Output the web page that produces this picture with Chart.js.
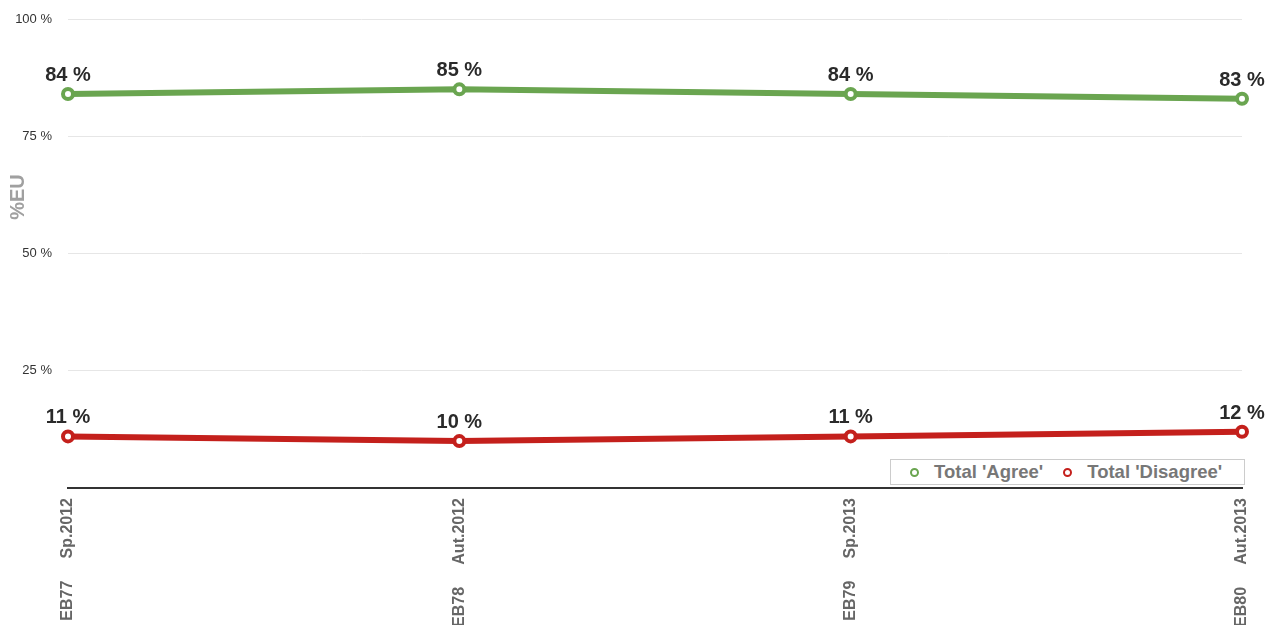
<!DOCTYPE html>
<html>
<head>
<meta charset="utf-8">
<script src="https://cdn.jsdelivr.net/npm/chart.js@4"></script>
<style>
  html, body { margin: 0; padding: 0; background: #fff; overflow: hidden; }
  #wrap { position: relative; width: 1275px; height: 625px; }
  #legend {
    position: absolute; left: 890px; top: 459px; width: 355px; height: 26px;
    border: 1px solid #ccc; background: #fff; box-sizing: border-box;
    font: bold 18.5px "Liberation Sans", Arial, sans-serif; color: #777;
    display: flex; align-items: center; padding-left: 19px; white-space: nowrap;
  }
  #legend span.item { display: flex; align-items: center; margin-right: 20px; }
  #legend span.dot {
    display: inline-block; width: 5px; height: 5px; border-radius: 50%;
    border: 2.5px solid; background: #fff; margin-right: 15px;
  }
</style>
</head>
<body>
<div id="wrap">
  <canvas id="lineChart" width="1275" height="625"></canvas>
  <div id="legend"></div>
</div>
<script>
// Data
const labels = ["EB77     Sp.2012", "EB78     Aut.2012", "EB79     Sp.2013", "EB80     Aut.2013"];
const agree = [84, 85, 84, 83];
const disagree = [11, 10, 11, 12];
const yTicks = [0, 25, 50, 75, 100];
const yTitle = "%EU";

const FONT = '"Liberation Sans", Arial, sans-serif';

// Draw value labels above each point
const valueLabels = {
  id: "valueLabels",
  afterDatasetsDraw(chart) {
    const ctx = chart.ctx;
    ctx.save();
    ctx.font = "bold 20px " + FONT;
    ctx.fillStyle = "#2a2a2a";
    ctx.textAlign = "center";
    ctx.textBaseline = "alphabetic";
    chart.data.datasets.forEach((ds, i) => {
      chart.getDatasetMeta(i).data.forEach((pt, j) => {
        ctx.fillText(ds.data[j] + " %", pt.x, pt.y - 13);
      });
    });
    ctx.restore();
  },
};

// Y axis title, sits a bit above the middle like the original
const axisTitle = {
  id: "axisTitle",
  afterDraw(chart) {
    const ctx = chart.ctx;
    ctx.save();
    ctx.translate(18, 197);
    ctx.rotate(-Math.PI / 2);
    ctx.font = "bold 20px " + FONT;
    ctx.fillStyle = "#a0a0a0";
    ctx.textAlign = "center";
    ctx.textBaseline = "middle";
    ctx.fillText(yTitle, 0, 0);
    ctx.restore();
  },
};

const ctx = document.getElementById("lineChart").getContext("2d");
const lineChart = new Chart(ctx, {
  type: "line",
  data: {
    labels: labels,
    datasets: [
      {
        label: "Total 'Agree'",
        data: agree,
        borderColor: "#6aa550",
        backgroundColor: "#fff",
        borderWidth: 6,
        pointRadius: 5,
        pointBorderWidth: 4,
        pointBackgroundColor: "#fff",
        pointBorderColor: "#6aa550",
        tension: 0,
      },
      {
        label: "Total 'Disagree'",
        data: disagree,
        borderColor: "#c4201c",
        backgroundColor: "#fff",
        borderWidth: 6,
        pointRadius: 5,
        pointBorderWidth: 4,
        pointBackgroundColor: "#fff",
        pointBorderColor: "#c4201c",
        tension: 0,
      },
    ],
  },
  options: {
    responsive: false,
    animation: false,
    layout: { padding: { top: 19, right: 33, left: 0, bottom: 0 } },
    plugins: {
      legend: { display: false },
      tooltip: { enabled: false },
    },
    scales: {
      x: {
        offset: false,
        grid: { display: false },
        border: { display: true, color: "#333", width: 2 },
        ticks: {
          autoSkip: false,
          maxRotation: 90,
          minRotation: 90,
          padding: 2,
          color: "#666",
          font: { family: FONT, size: 16, weight: "bold" },
        },
        afterFit(scale) { scale.height = 137; },
      },
      y: {
        min: 0,
        max: 100,
        afterBuildTicks(scale) { scale.ticks = yTicks.map(v => ({ value: v })); },
        grid: { color: "#e6e6e6", lineWidth: 1, drawTicks: false },
        border: { display: false },
        ticks: {
          padding: 16,
          color: "#333",
          font: { family: FONT, size: 13 },
          callback: v => (v === 0 ? "" : v + " %"),
        },
        afterFit(scale) {
          scale.width = 68;
          scale.paddingTop = 0;
          scale.paddingBottom = 0;
        },
      },
    },
  },
  plugins: [valueLabels, axisTitle],
});

// HTML legend built from the datasets
const legendEl = document.getElementById("legend");
lineChart.data.datasets.forEach(ds => {
  const item = document.createElement("span");
  item.className = "item";
  item.innerHTML = `<span class="dot" style="border-color:${ds.borderColor}"></span>${ds.label}`;
  legendEl.appendChild(item);
});
</script>
</body>
</html>
